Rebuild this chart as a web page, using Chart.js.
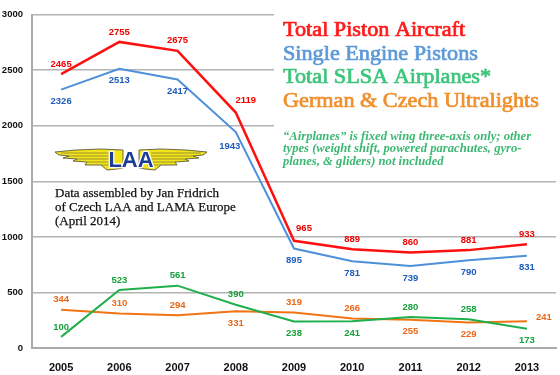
<!DOCTYPE html>
<html><head><meta charset="utf-8">
<script src="https://cdn.jsdelivr.net/npm/chart.js@4.4.1/dist/chart.umd.min.js"></script>
<style>html,body{margin:0;padding:0;background:#fff}#wrap{width:560px;height:375px;position:relative}</style>
</head><body><div id="wrap"><canvas id="c" width="560" height="375"></canvas></div>
<script>
const years = ['2005','2006','2007','2008','2009','2010','2011','2012','2013'];
const totalPiston = [2465,2755,2675,2119,965,889,860,881,933];
const singleEngine = [2326,2513,2417,1943,895,781,739,790,831];
const slsaAirplanes = [100,523,561,390,238,241,280,258,173];
const ultralights = [344,310,294,331,319,266,255,229,241];
const yMin = 0, yMax = 3000, yStep = 500;

const seriesNames = ['Total Piston Aircraft','Single Engine Pistons','Total SLSA Airplanes*','German & Czech Ultralights'];
const noteLines = ['\u201CAirplanes\u201D is fixed wing three-axis only; other','types (weight shift, powered parachutes, gyro-','planes, & gliders) not included'];
const creditLines = ['Data assembled by Jan Fridrich','of Czech LAA and LAMA Europe','(April 2014)'];

const OFF = {a:[0,-10], b:[0,12], ar:[10,-12], bl:[-6,14], r:[17,-4]};

function stretchText(ctx,t,x,y,sx,stroke){
  ctx.save(); ctx.translate(x,y); ctx.scale(sx,1);
  ctx.fillText(t,0,0); if(stroke) ctx.strokeText(t,0,0);
  ctx.restore();
}

const labelPlugin = {
  id:'labels',
  beforeDatasetsDraw(chart){
    const ctx = chart.ctx;
    ctx.save(); ctx.fillStyle='#fff'; ctx.fillRect(274,13,290,163); ctx.restore();
  },
  afterDatasetsDraw(chart){
    const ctx = chart.ctx;
    ctx.save();
    ctx.font = 'bold 9.5px "Liberation Sans", Arial, sans-serif';
    ctx.textAlign='center'; ctx.textBaseline='middle';
    chart.data.datasets.forEach((ds,i)=>{
      const meta = chart.getDatasetMeta(i);
      meta.data.forEach((pt,j)=>{
        const o = OFF[ds.labelPos[j]];
        ctx.fillStyle = ds.labelColor;
        ctx.fillText(String(ds.data[j]), pt.x+o[0], pt.y+o[1]);
      });
    });
    ctx.restore();
  },
  afterDraw(chart){
    const ctx = chart.ctx;
    ctx.save();
    const cols = ['#ff1a1a','#5d9ad8','#3ec47c','#f0902e'];
    ctx.font = '20px "Liberation Serif", "DejaVu Serif", serif';
    ctx.textAlign='left'; ctx.textBaseline='alphabetic';
    const bases=[36,59.5,83,106.5];
    seriesNames.forEach((t,i)=>{
      ctx.fillStyle=cols[i];
      ctx.lineWidth=0.7; ctx.strokeStyle=cols[i];
      stretchText(ctx,t,283,bases[i],1.11,true);
    });
    ctx.font='italic bold 11.5px "Liberation Serif", "DejaVu Serif", serif';
    ctx.fillStyle='#3cb873';
    noteLines.forEach((t,i)=>stretchText(ctx,t,283,140+i*12.3,1.1,false));
    ctx.font='13px "Liberation Serif", "DejaVu Serif", serif';
    ctx.fillStyle='#111'; ctx.strokeStyle='#111'; ctx.lineWidth=0.25;
    creditLines.forEach((t,i)=>stretchText(ctx,t,55,197+i*14,1.0,true));
    drawLogo(ctx,131,156);
    ctx.restore();
  }
};

function drawLogo(ctx,cx,cy){
  ctx.save();
  ctx.lineJoin='round';
  for(const s of [-1,1]){
    ctx.beginPath();
    const pts=[[8,-6],[30,-7],[55,-6],[76,-4],[72,-1],[62,0],[68,2],[54,3],[58,5],[44,6],[46,9],[30,9],[24,14],[14,13],[8,12]];
    pts.forEach((p,k)=>{const x=cx+s*p[0],y=cy+p[1]; k?ctx.lineTo(x,y):ctx.moveTo(x,y);});
    ctx.closePath();
    ctx.fillStyle='#f3e41a'; ctx.fill();
    ctx.strokeStyle='#5a5a3a'; ctx.lineWidth=0.9; ctx.stroke();
    ctx.beginPath();
    [[-3,[20,70]],[0,[20,62]],[3,[20,54]],[6,[18,44]],[9,[16,30]]].forEach(l=>{
      ctx.moveTo(cx+s*l[1][0],cy+l[0]); ctx.lineTo(cx+s*l[1][1],cy+l[0]);
    });
    ctx.strokeStyle='#7a7440'; ctx.lineWidth=0.7; ctx.stroke();
  }
  ctx.font='bold 22px "Liberation Sans", Arial, sans-serif';
  ctx.textAlign='center'; ctx.textBaseline='alphabetic';
  ctx.lineWidth=2.5; ctx.strokeStyle='#ffffff';
  ctx.strokeText('LAA',cx,cy+11);
  ctx.fillStyle='#1c3c96';
  ctx.fillText('LAA',cx,cy+11);
  ctx.restore();
}

new Chart(document.getElementById('c'),{
  type:'line',
  data:{labels:years,datasets:[
    {data:totalPiston,borderColor:'#ff1010',borderWidth:2.5,labelColor:'#f20000',labelPos:['a','a','a','ar','ar','a','a','a','a']},
    {data:singleEngine,borderColor:'#4f90da',borderWidth:2,labelColor:'#1f5cbc',labelPos:['b','b','b','bl','b','b','b','b','b']},
    {data:slsaAirplanes,borderColor:'#1fb04c',borderWidth:2,labelColor:'#16a03a',labelPos:['a','a','a','a','b','b','a','a','b']},
    {data:ultralights,borderColor:'#f07414',borderWidth:2,labelColor:'#e86818',labelPos:['a','a','a','b','a','a','b','b','r']}
  ]},
  options:{
    responsive:false, animation:false,
    layout:{padding:{top:10,right:4,left:0,bottom:0}},
    elements:{point:{radius:0},line:{tension:0}},
    plugins:{legend:{display:false},tooltip:{enabled:false}},
    scales:{
      x:{offset:true,grid:{display:false,drawTicks:false},border:{display:true,color:'#aaaaaa',width:2},
         ticks:{color:'#111',font:{family:'"Liberation Sans", Arial, sans-serif',weight:'bold',size:11},padding:13},
         afterFit(s){s.height=27;}},
      y:{min:yMin,max:yMax,grid:{color:'#b4b4b4',lineWidth:1.5,drawTicks:false},border:{display:true,color:'#aaaaaa',width:2},
         ticks:{stepSize:yStep,color:'#111',font:{family:'"Liberation Sans", Arial, sans-serif',weight:'bold',size:9.5},padding:9,
                callback:v=>String(v)},
         afterFit(s){s.width=32;}}
    }
  },
  plugins:[labelPlugin]
});
</script></body></html>
